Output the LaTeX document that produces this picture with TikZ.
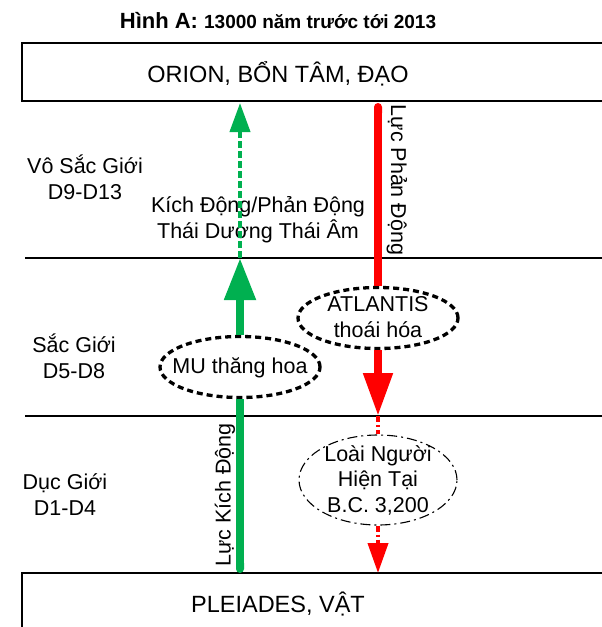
\documentclass[tikz,border=0pt]{standalone}
\usepackage{fontspec}
\setmainfont{Liberation Sans}
\usetikzlibrary{arrows.meta,shapes.geometric}
\definecolor{forcegreen}{RGB}{0,176,80}
\tikzset{
  frame/.style={line width=1.8pt},
  txt/.style={inner sep=0pt,anchor=base,align=center,font=\fontsize{21.5}{25.5}\selectfont},
  bigtxt/.style={inner sep=0pt,anchor=base,font=\fontsize{23.5}{28}\selectfont},
  blob/.style={ellipse,draw,inner sep=0pt,line width=3.3pt,dash pattern=on 6pt off 4pt,minimum width=160pt,minimum height=61pt},
  haze/.style={ellipse,draw,inner sep=0pt,line width=1.1pt,dash pattern=on 10pt off 4pt on 2pt off 4pt,minimum width=158pt,minimum height=90pt},
  upsolid/.style={forcegreen,line width=8pt},
  updash/.style={forcegreen,line width=4pt,dash pattern=on 7pt off 3pt},
  downsolid/.style={red,line width=8pt},
  downdash/.style={red,line width=4pt,dash pattern=on 6pt off 3pt on 2pt off 3pt},
}
\begin{document}
\begin{tikzpicture}[x=1pt,y=-1pt]
  \useasboundingbox (0,0) rectangle (602,627);

  \node[inner sep=0pt,anchor=base,font=\bfseries] (title) at (278,28)
    {\fontsize{22}{26}\selectfont Hình A: \fontsize{19}{23}\selectfont 13000 năm trước tới 2013};

  \draw[frame] (610,43) -- (22,43) -- (22,101) -- (610,101);
  \draw[frame] (25,258) -- (610,258);
  \draw[frame] (25,416) -- (610,416);
  \draw[frame] (610,573) -- (22,573) -- (22,640);

  \node[bigtxt] (orion) at (278,82) {ORION, BỔN TÂM, ĐẠO};
  \node[bigtxt] (pleiades) at (278,612) {PLEIADES, VẬT};

  \node[txt] (vosac) at (85,199) {Vô Sắc Giới\\D9-D13};
  \node[txt] (sac) at (74,378) {Sắc Giới\\D5-D8};
  \node[txt] (duc) at (65,515) {Dục Giới\\D1-D4};

  \node[txt] (thaiam) at (258,238) {Kích Động/Phản Động\\Thái Dương Thái Âm};

  \node[blob] (mu) at (240,367) {};
  \node[txt] (mutxt) at (240,373) {MU thăng hoa};
  \node[blob] (atl) at (378,318) {};
  \node[txt] (atltxt) at (378,337) {ATLANTIS\\thoái hóa};
  \node[haze] (loai) at (378,480) {};
  \node[txt] (loaitxt) at (378,512) {Loài Người\\Hiện Tại\\B.C. 3,200};

  \node[txt,anchor=center,rotate=-90] (phan) at (397,180) {Lực Phản Động};
  \node[txt,anchor=center,rotate=90] (kich) at (225,495) {Lực Kích Động};

  \coordinate (gfoot) at (240,573);
  \coordinate (gmid) at (240,258);
  \coordinate (gtop) at (240,103);
  \coordinate (rtop) at (378,103);
  \coordinate (rmid) at (378,416);
  \coordinate (rfoot) at (378,573);

  \draw[upsolid,{Round Cap[]}-] (gfoot) -- (mu.south);
  \draw[upsolid,-{Triangle[length=42pt,width=30pt]}] (mu.north) -- (gmid);
  \draw[updash,-{Triangle[length=29pt,width=20pt]}] (gmid) -- (gtop);

  \draw[downsolid,{Round Cap[]}-] (rtop) -- (atl.north);
  \draw[downsolid,-{Triangle[length=43pt,width=28pt]}] (atl.south) -- (rmid);
  \draw[downdash] (rmid) -- (loai.north);
  \draw[downdash,-{Triangle[length=30pt,width=20pt]}] (loai.south) -- (rfoot);
\end{tikzpicture}
\end{document}
